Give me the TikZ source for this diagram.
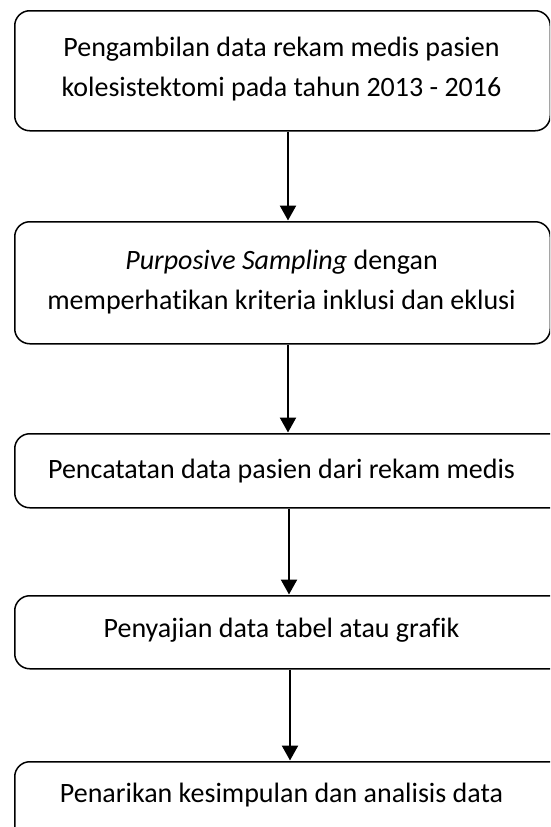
\documentclass[tikz,border=0pt]{standalone}
\usepackage{fontspec}
\setmainfont[Ligatures=NoCommon]{Carlito}
\usetikzlibrary{arrows.meta}
\begin{document}
\begin{tikzpicture}[x=1pt,y=1pt,
  box/.style={draw=black, line width=1.5pt, rounded corners=15pt, inner sep=0pt, anchor=north west},
  txt/.style={font=\fontsize{28}{40}\selectfont, align=center, inner sep=0pt},
  arr/.style={line width=2.4pt, -{Triangle[length=15pt,width=16pt]}, shorten >=0.5pt}]
\useasboundingbox (0,0) rectangle (550,-827);
\clip (0,0) rectangle (550,-827);
% boxes
\node[box, minimum width=535.5pt, minimum height=120pt] (b1) at (14,-10) {};
\node[box, minimum width=535.5pt, minimum height=122pt] (b2) at (14,-221) {};
\node[box, minimum width=560pt, minimum height=74pt] (b3) at (14,-433) {};
\node[box, minimum width=560pt, minimum height=73pt] (b4) at (14,-595) {};
\node[box, minimum width=560pt, minimum height=100pt] (b5) at (14,-761) {};
% texts
\node[txt] (t1) at (281.5,-69) {Pengambilan data rekam medis pasien\\kolesistektomi pada tahun 2013 - 2016};
\node[txt] (t2) at (281.5,-282) {\textit{Purposive Sampling} dengan\\memperhatikan kriteria inklusi dan eklusi};
\node[txt] (t3) at (281.5,-471) {Pencatatan data pasien dari rekam medis};
\node[txt] (t4) at (281.5,-630) {Penyajian data tabel atau grafik};
\node[txt] (t5) at (281.5,-795) {Penarikan kesimpulan dan analisis data};
% arrows
\draw[arr] (b1.south west -| 288,0) -- (b2.north west -| 288,0);
\draw[arr] (b2.south west -| 288,0) -- (b3.north west -| 288,0);
\draw[arr] (b3.south west -| 289,0) -- (b4.north west -| 289,0);
\draw[arr] (b4.south west -| 290,0) -- (b5.north west -| 290,0);
\end{tikzpicture}
\end{document}
